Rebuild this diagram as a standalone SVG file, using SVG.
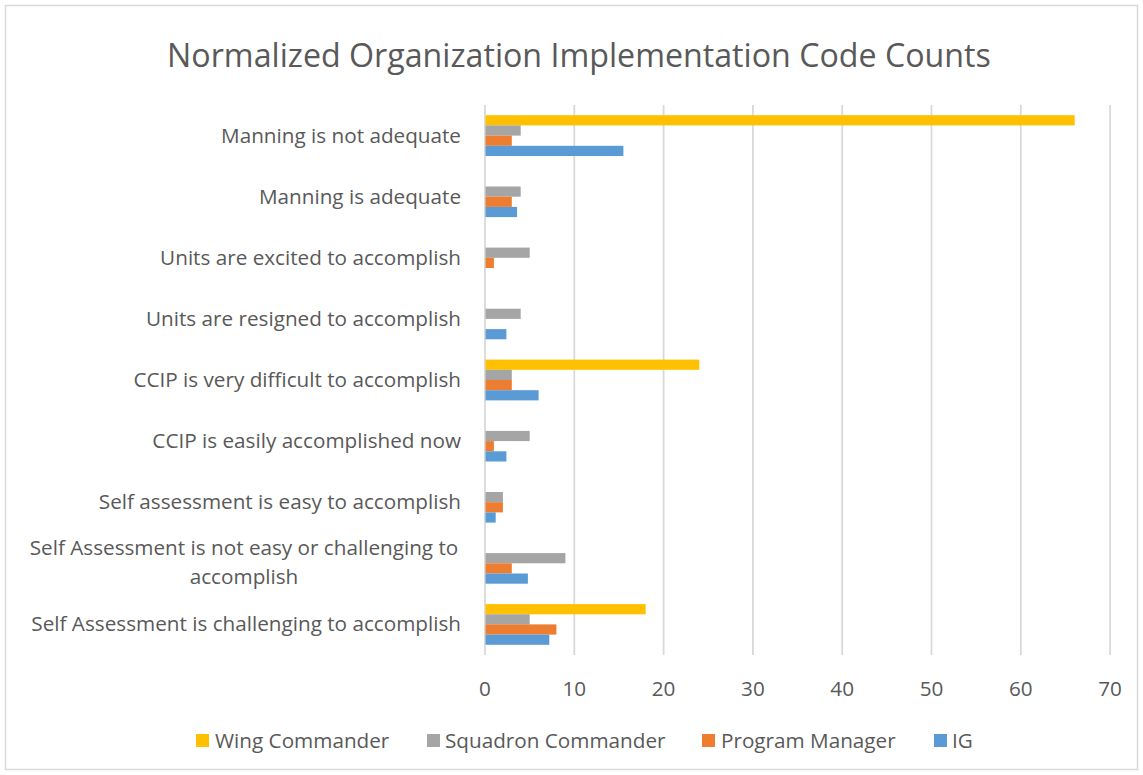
<svg xmlns="http://www.w3.org/2000/svg" width="1143" height="775" viewBox="0 0 1143 775">
<style>
text{font-family:"Open Sans","Liberation Sans",sans-serif;fill:#595959}
.t{font-size:32.2px;text-anchor:middle}
.c{font-size:20.7px;text-anchor:end}
.cm{font-size:20.7px;text-anchor:middle}
.a{font-size:20.7px;text-anchor:middle}
.l{font-size:20.7px}
.g{stroke:#D9D9D9;stroke-width:1.8}
.y{fill:#FFC000}
.s{fill:#A5A5A5}
.o{fill:#ED7D31}
.b{fill:#5B9BD5}
</style>
<rect x="0" y="0" width="1143" height="775" fill="#fff"/>
<rect x="5.5" y="5.5" width="1132" height="764" fill="#fff" stroke="#D9D9D9" stroke-width="1.5"/>
<g id="title"><text class="t" x="579" y="67">Normalized Organization Implementation Code Counts</text></g>
<g id="grid">
<line class="g" x1="485" y1="105" x2="485" y2="655"/>
<line class="g" x1="574.3" y1="105" x2="574.3" y2="655"/>
<line class="g" x1="663.6" y1="105" x2="663.6" y2="655"/>
<line class="g" x1="752.9" y1="105" x2="752.9" y2="655"/>
<line class="g" x1="842.2" y1="105" x2="842.2" y2="655"/>
<line class="g" x1="931.5" y1="105" x2="931.5" y2="655"/>
<line class="g" x1="1020.8" y1="105" x2="1020.8" y2="655"/>
<line class="g" x1="1110.1" y1="105" x2="1110.1" y2="655"/>
</g>
<g id="axis-labels">
<text class="a" x="485" y="696">0</text>
<text class="a" x="574.3" y="696">10</text>
<text class="a" x="663.6" y="696">20</text>
<text class="a" x="752.9" y="696">30</text>
<text class="a" x="842.2" y="696">40</text>
<text class="a" x="931.5" y="696">50</text>
<text class="a" x="1020.8" y="696">60</text>
<text class="a" x="1110.1" y="696">70</text>
</g>
<g id="category-labels">
<text class="c" x="461" y="143">Manning is not adequate</text>
<text class="c" x="461" y="204">Manning is adequate</text>
<text class="c" x="461" y="265">Units are excited to accomplish</text>
<text class="c" x="461" y="326">Units are resigned to accomplish</text>
<text class="c" x="461" y="387">CCIP is very difficult to accomplish</text>
<text class="c" x="461" y="448">CCIP is easily accomplished now</text>
<text class="c" x="461" y="509">Self assessment is easy to accomplish</text>
<text class="cm" x="244" y="555">Self Assessment is not easy or challenging to</text>
<text class="cm" x="244" y="584">accomplish</text>
<text class="c" x="461" y="631">Self Assessment is challenging to accomplish</text>
</g>
<g id="series-wing-commander">
<rect class="y" x="485.5" y="115.2" width="589.2" height="10.2"/>
<rect class="y" x="485.5" y="359.6" width="213.8" height="10.2"/>
<rect class="y" x="485.5" y="604.1" width="160.2" height="10.2"/>
</g>
<g id="series-squadron-commander">
<rect class="s" x="485.5" y="125.4" width="35.2" height="10.2"/>
<rect class="s" x="485.5" y="186.5" width="35.2" height="10.2"/>
<rect class="s" x="485.5" y="247.6" width="44.2" height="10.2"/>
<rect class="s" x="485.5" y="308.7" width="35.2" height="10.2"/>
<rect class="s" x="485.5" y="369.8" width="26.3" height="10.2"/>
<rect class="s" x="485.5" y="430.9" width="44.2" height="10.2"/>
<rect class="s" x="485.5" y="492.0" width="17.4" height="10.2"/>
<rect class="s" x="485.5" y="553.1" width="79.9" height="10.2"/>
<rect class="s" x="485.5" y="614.3" width="44.2" height="10.2"/>
</g>
<g id="series-program-manager">
<rect class="o" x="485.5" y="135.6" width="26.3" height="10.2"/>
<rect class="o" x="485.5" y="196.7" width="26.3" height="10.2"/>
<rect class="o" x="485.5" y="257.8" width="8.4" height="10.2"/>
<rect class="o" x="485.5" y="380.0" width="26.3" height="10.2"/>
<rect class="o" x="485.5" y="441.1" width="8.4" height="10.2"/>
<rect class="o" x="485.5" y="502.2" width="17.4" height="10.2"/>
<rect class="o" x="485.5" y="563.3" width="26.3" height="10.2"/>
<rect class="o" x="485.5" y="624.4" width="70.9" height="10.2"/>
</g>
<g id="series-ig">
<rect class="b" x="485.5" y="145.8" width="137.9" height="10.2"/>
<rect class="b" x="485.5" y="206.9" width="31.6" height="10.2"/>
<rect class="b" x="485.5" y="329.1" width="20.9" height="10.2"/>
<rect class="b" x="485.5" y="390.2" width="53.1" height="10.2"/>
<rect class="b" x="485.5" y="451.3" width="20.9" height="10.2"/>
<rect class="b" x="485.5" y="512.4" width="10.2" height="10.2"/>
<rect class="b" x="485.5" y="573.5" width="42.4" height="10.2"/>
<rect class="b" x="485.5" y="634.6" width="63.8" height="10.2"/>
</g>
<g id="legend">
<rect class="y" x="196" y="734" width="13" height="13"/>
<text class="l" x="215" y="748">Wing Commander</text>
<rect class="s" x="427" y="734" width="13" height="13"/>
<text class="l" x="445" y="748">Squadron Commander</text>
<rect class="o" x="702" y="734" width="13" height="13"/>
<text class="l" x="721" y="748">Program Manager</text>
<rect class="b" x="934" y="734" width="13" height="13"/>
<text class="l" x="952" y="748">IG</text>
</g>
</svg>
